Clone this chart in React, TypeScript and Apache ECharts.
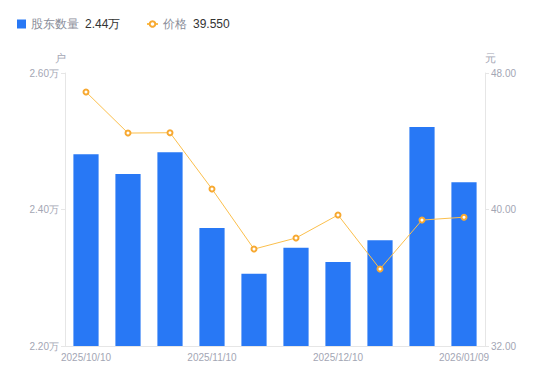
import React, { useEffect, useRef } from "react";
import * as echarts from "echarts";

const categories = [
  "2025/10/10", "2025/10/20", "2025/10/31", "2025/11/10", "2025/11/20",
  "2025/11/28", "2025/12/10", "2025/12/19", "2025/12/31", "2026/01/09",
];
const holders = [2.481, 2.452, 2.484, 2.373, 2.306, 2.344, 2.323, 2.355, 2.521, 2.44];
const prices = [46.89, 44.48, 44.5, 41.2, 37.68, 38.33, 39.68, 36.51, 39.38, 39.55];
const holderLast = "2.44万";
const priceLast = "39.550";

export default function App() {
  const ref = useRef<HTMLDivElement>(null);
  useEffect(() => {
    if (!ref.current) return;
    const chart = echarts.init(ref.current, undefined, { renderer: "svg" });
    const axisLabelColor = "#a3a6b4";
    const lineColor = "#e6e6e6";
    const rich = {
      n: { color: "#8a8d99", fontSize: 12, padding: [0, 6, 0, 0] },
      v: { color: "#333333", fontSize: 12 },
    };
    chart.setOption({
      animation: false,
      legend: [
        {
          left: 9,
          top: 10,
          padding: 0,
          itemWidth: 9,
          itemHeight: 9,
          itemGap: 5,
          data: [{ name: "股东数量", icon: "rect" }],
          formatter: (name: string) => `{n|${name}}{v|${holderLast}}`,
          textStyle: { rich },
        },
        {
          left: 138,
          top: 10,
          padding: 0,
          itemWidth: 11,
          itemHeight: 7,
          data: [{ name: "价格" }],
          formatter: (name: string) => `{n|${name}}{v|${priceLast}}`,
          textStyle: { rich },
        },
      ],
      grid: { left: 57, right: 57, top: 65, bottom: 27 },
      xAxis: {
        type: "category",
        data: categories,
        axisLine: { lineStyle: { color: lineColor } },
        axisTick: { show: false },
        axisLabel: {
          color: axisLabelColor,
          fontSize: 10,
          interval: 2,
          margin: 6,
        },
      },
      yAxis: [
        {
          type: "value",
          name: "户",
          min: 2.2,
          max: 2.6,
          interval: 0.2,
          nameTextStyle: { color: axisLabelColor, fontSize: 11, padding: [0, 10, 0, 0] },
          nameGap: 10,
          axisLine: { show: true, lineStyle: { color: lineColor } },
          axisTick: { show: true, length: 4, lineStyle: { color: lineColor } },
          splitLine: { show: false },
          axisLabel: {
            color: axisLabelColor,
            fontSize: 10,
            margin: 6,
            formatter: (v: number) => v.toFixed(2) + "万",
          },
        },
        {
          type: "value",
          name: "元",
          min: 32,
          max: 48,
          interval: 8,
          nameTextStyle: { color: axisLabelColor, fontSize: 11, padding: [0, 0, 0, 10] },
          nameGap: 10,
          axisLine: { show: true, lineStyle: { color: lineColor } },
          axisTick: { show: true, length: 4, lineStyle: { color: lineColor } },
          splitLine: { show: false },
          axisLabel: {
            color: axisLabelColor,
            fontSize: 10,
            margin: 6,
            formatter: (v: number) => v.toFixed(2),
          },
        },
      ],
      series: [
        {
          name: "股东数量",
          type: "bar",
          yAxisIndex: 0,
          data: holders,
          barWidth: "60%",
          itemStyle: { color: "#2878f5" },
        },
        {
          name: "价格",
          type: "line",
          yAxisIndex: 1,
          data: prices,
          symbol: "emptyCircle",
          symbolSize: 5,
          lineStyle: { color: "#fbbf4c", width: 1 },
          itemStyle: { color: "#f7a932", borderWidth: 2 },
        },
      ],
    });
    return () => chart.dispose();
  }, []);
  return <div ref={ref} style={{ width: 534, height: 365 }} />;
}
